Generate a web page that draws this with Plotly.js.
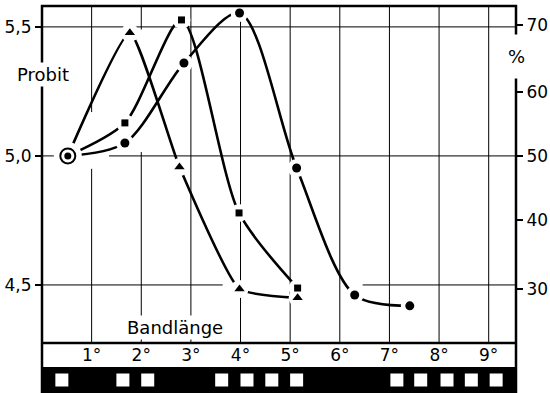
<!DOCTYPE html>
<html><head><meta charset="utf-8">
<script src="https://cdn.plot.ly/plotly-3.0.1.min.js"></script>
<style>html,body{margin:0;padding:0;background:#fff}#c{width:550px;height:393px}</style>
</head><body><div id="c"></div>
<script>
// Data (x in degrees "Bandlänge", y in probit units)
const startX = [0.52];
const startY = [5.0];
const triX = [0.52, 1.77, 2.77, 3.98, 5.15];
const triY = [5.0, 5.477, 4.957, 4.484, 4.45];
const sqX = [0.52, 1.67, 2.81, 3.97, 5.15];
const sqY = [5.0, 5.128, 5.527, 4.779, 4.488];
const ciX = [0.52, 1.67, 2.86, 3.98, 5.13, 6.30, 7.41];
const ciY = [5.0, 5.05, 5.36, 5.554, 4.953, 4.461, 4.419];
// axes
const xTickVals = [1, 2, 3, 4, 5, 6, 7, 8, 9];
const xTickText = ['1°', '2°', '3°', '4°', '5°', '6°', '7°', '8°', '9°'];
const yTickVals = [4.5, 5.0, 5.5];
const yTickText = ['4,5', '5,0', '5,5'];
const pctTickVals = [4.484, 4.752, 5.0, 5.248, 5.508];
const pctTickText = ['30', '40', '50', '60', '70'];
// film strip squares (positions along x)
const stripSquares = [0.40, 1.63, 2.13, 3.62, 4.13, 4.63, 5.13, 7.15, 7.63, 8.16, 8.65, 9.15];

const X_RANGE = [0, 9.55];
const Y_RANGE = [4.275, 5.581];
// breaks in the printed grid next to the curves: [gridValue, from, to]
const vGridGaps = [[1, 4.95, 5.17], [2, 5.015, 5.49]];
const hGridGaps = [[5.0, 0.6, 1.35], [4.5, 3.64, 6.46]];

const FONT = 'DejaVu Sans';
function lineOf(sm) { return {color: '#000', width: 2.6, shape: 'spline', smoothing: sm}; }
function gapMarks(xs, ys) {
  return {x: xs.slice(1), y: ys.slice(1), mode: 'markers',
          marker: {symbol: 'circle', size: 18, color: '#fff', line: {width: 0}}};
}

const traces = [
  {x: triX, y: triY, mode: 'lines', line: lineOf(0.45)},
  {x: sqX, y: sqY, mode: 'lines', line: lineOf(0.75)},
  {x: ciX, y: ciY, mode: 'lines', line: lineOf(0.85)},
  gapMarks(triX, triY), gapMarks(sqX, sqY), gapMarks(ciX, ciY),
  {x: triX.slice(1), y: triY.slice(1), mode: 'markers',
   marker: {symbol: 'triangle-up', size: 9, color: '#000', line: {width: 0}}},
  {x: sqX.slice(1), y: sqY.slice(1), mode: 'markers',
   marker: {symbol: 'square', size: 7, color: '#000', line: {width: 0}}},
  {x: ciX.slice(1), y: ciY.slice(1), mode: 'markers',
   marker: {symbol: 'circle', size: 9, color: '#000', line: {width: 0}}},
  {x: startX, y: startY, mode: 'markers',
   marker: {symbol: 'circle', size: 28, color: '#fff', line: {width: 0}}},
  {x: startX, y: startY, mode: 'markers',
   marker: {symbol: 'circle', size: 15, color: '#fff', line: {color: '#000', width: 2}}},
  {x: startX, y: startY, mode: 'markers',
   marker: {symbol: 'circle', size: 7, color: '#000', line: {width: 0}}},
  {x: stripSquares, y: stripSquares.map(function () { return 0.5; }), mode: 'markers', xaxis: 'x', yaxis: 'y3',
   marker: {symbol: 'square', size: 13, color: '#fff', line: {width: 0}}},
  {x: [0], y: [5.0], yaxis: 'y2', mode: 'markers', marker: {opacity: 0}, hoverinfo: 'skip'}
];

const mainBottom = 50 / 387;
const stripTop = 26 / 387;

// grid drawn as segments so that the printed breaks can be kept
function segments(lo, hi, gaps) {
  const out = [];
  let cur = lo;
  for (let i = 0; i < gaps.length; i++) {
    out.push([cur, gaps[i][0]]);
    cur = gaps[i][1];
  }
  out.push([cur, hi]);
  return out;
}
const gridShapes = [];
for (let i = 0; i < xTickVals.length; i++) {
  const v = xTickVals[i];
  const gaps = vGridGaps.filter(function (g) { return g[0] === v; }).map(function (g) { return [g[1], g[2]]; });
  const segs = segments(Y_RANGE[0], Y_RANGE[1], gaps);
  for (let j = 0; j < segs.length; j++) {
    gridShapes.push({type: 'line', xref: 'x', yref: 'y', x0: v, x1: v, y0: segs[j][0], y1: segs[j][1],
                     line: {color: '#000', width: 1}, layer: 'below'});
  }
}
for (let i = 0; i < yTickVals.length; i++) {
  const v = yTickVals[i];
  const gaps = hGridGaps.filter(function (g) { return g[0] === v; }).map(function (g) { return [g[1], g[2]]; });
  const segs = segments(X_RANGE[0], X_RANGE[1], gaps);
  for (let j = 0; j < segs.length; j++) {
    gridShapes.push({type: 'line', xref: 'x', yref: 'y', x0: segs[j][0], x1: segs[j][1], y0: v, y1: v,
                     line: {color: '#000', width: 1}, layer: 'below'});
  }
}

const layout = {
  width: 550, height: 393,
  margin: {l: 42, r: 34, t: 6, b: 0},
  paper_bgcolor: '#fff', plot_bgcolor: '#fff',
  showlegend: false,
  font: {family: FONT, color: '#000', size: 17},
  xaxis: {
    range: X_RANGE, anchor: 'y', tickvals: xTickVals, ticktext: xTickText,
    showgrid: false, zeroline: false,
    ticks: '', showline: false, tickfont: {size: 17, family: FONT}
  },
  yaxis: {
    domain: [mainBottom, 1], range: Y_RANGE,
    tickvals: yTickVals, ticktext: yTickText,
    showgrid: false, zeroline: false,
    ticks: 'outside', ticklen: 6, tickwidth: 1.5, tickcolor: '#000',
    showline: false, tickfont: {size: 17, family: FONT}
  },
  yaxis2: {
    overlaying: 'y', side: 'right', range: Y_RANGE,
    tickvals: pctTickVals, ticktext: pctTickText,
    showgrid: false, zeroline: false, showline: false,
    ticks: 'outside', ticklen: 6, tickwidth: 1.5, tickcolor: '#000',
    tickfont: {size: 17, family: FONT}
  },
  yaxis3: {
    domain: [0, stripTop], range: [0, 1], visible: false, fixedrange: true
  },
  shapes: gridShapes.concat([
    {type: 'rect', xref: 'paper', yref: 'paper', x0: 0, x1: 1, y0: 0, y1: stripTop,
     fillcolor: '#000', line: {width: 0}, layer: 'below'},
    {type: 'rect', xref: 'paper', yref: 'paper', x0: 0, x1: 1, y0: 0, y1: 1,
     line: {color: '#000', width: 2.5}, layer: 'above'},
    {type: 'line', xref: 'paper', yref: 'paper', x0: 0, x1: 1, y0: mainBottom, y1: mainBottom,
     line: {color: '#000', width: 2.5}, layer: 'above'}
  ]),
  annotations: [
    {text: 'Probit', xref: 'paper', yref: 'y', x: 0.002, y: 5.314, showarrow: false,
     font: {size: 18, family: FONT}, bgcolor: '#fff', xanchor: 'center', yanchor: 'middle'},
    {text: 'Bandlänge', xref: 'paper', yref: 'y', x: 0.281, y: 4.337, showarrow: false,
     font: {size: 18, family: FONT}, bgcolor: '#fff', xanchor: 'center', yanchor: 'middle'},
    {text: '%', xref: 'paper', yref: 'y', x: 1.0, y: 5.384, showarrow: false,
     font: {size: 18, family: FONT}, bgcolor: '#fff', borderpad: 11, xanchor: 'center', yanchor: 'middle'}
  ]
};

Plotly.newPlot('c', traces, layout, {staticPlot: true});
</script></body></html>
